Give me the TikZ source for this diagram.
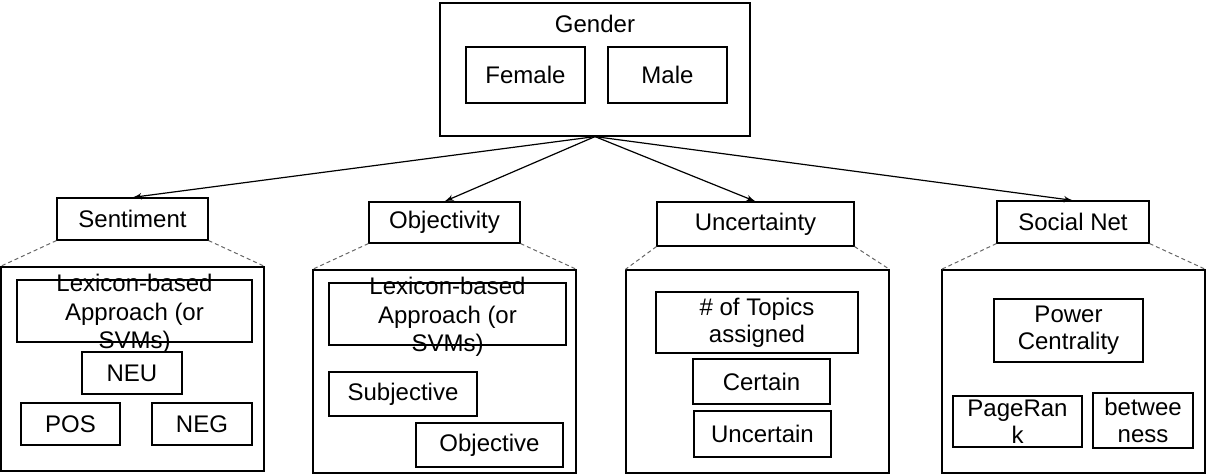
\documentclass[tikz,border=0pt]{standalone}
\usepackage{fontspec}
\setmainfont{Liberation Sans}
\usetikzlibrary{shapes,arrows,positioning,calc}
\tikzset{
    box/.style={rectangle, draw, inner sep=0pt, align=center, font=\fontsize{12}{13.5}\selectfont, line width=0.6pt},
    sz/.style 2 args={minimum width=#1*0.5pt, minimum height=#2*0.5pt},
    txt/.style={align=center, inner sep=0pt, font=\fontsize{12}{14.2}\selectfont},
    line/.style={draw, -latex', line width=0.6pt},
    zoomline/.style={draw, gray!80!black, dash pattern=on 2pt off 1.5pt, line width=0.5pt}
}
\begin{document}
\begin{tikzpicture}[x=0.5pt, y=-0.5pt]
    \useasboundingbox (0,0) rectangle (1206,475);

    % top
    \node [box, sz={310}{133}] (gender) at (595,69.5) {};
    \node [txt] (gendertitle) at (595,24) {Gender};
    \node [box, sz={119}{56}] (female) at (525.5,75) {Female};
    \node [box, sz={119}{56}] (male) at (667.5,75) {Male};

    % second level
    \node [box, sz={151}{42}] (senti) at (132.5,219) {Sentiment};
    \node [box, sz={151}{41}] (obj) at (444.5,222.5) {Objectivity};
    \node [box, sz={197}{44}] (unc) at (755.5,224) {Uncertainty};
    \node [box, sz={152}{42}] (soc) at (1073,222) {Social Net};

    \path [line] (gender.south) -- (senti.north);
    \path [line] (gender.south) -- (obj.north);
    \path [line] (gender.south) -- (unc.north);
    \path [line] (gender.south) -- (soc.north);

    % panels
    \node [box, sz={263}{204}] (sentipanel) at (132.5,369) {};
    \node [box, sz={263}{203}] (objpanel) at (444.5,371.5) {};
    \node [box, sz={263}{203}] (uncpanel) at (757.5,371.5) {};
    \node [box, sz={263}{203}] (socpanel) at (1073.5,371.5) {};

    \path [zoomline] (senti.south west) -- (sentipanel.north west);
    \path [zoomline] (senti.south east) -- (sentipanel.north east);
    \path [zoomline] (obj.south west) -- (objpanel.north west);
    \path [zoomline] (obj.south east) -- (objpanel.north east);
    \path [zoomline] (unc.south west) -- (uncpanel.north west);
    \path [zoomline] (unc.south east) -- (uncpanel.north east);
    \path [zoomline] (soc.south west) -- (socpanel.north west);
    \path [zoomline] (soc.south east) -- (socpanel.north east);

    % sentiment
    \node [box, sz={235}{62}] (lexa) at (134.5,311) {};
    \node [txt] (lexatxt) at ($(lexa.center)+(0,3)$) {Lexicon-based\\Approach (or\\SVMs)};
    \node [box, sz={100}{42}] (neu) at (132,373) {NEU};
    \node [box, sz={99}{42}] (pos) at (70.5,424) {POS};
    \node [box, sz={100}{42}] (neg) at (202,424) {NEG};

    % objectivity
    \node [box, sz={237}{62}] (lexb) at (447.5,314) {};
    \node [txt] (lexbtxt) at ($(lexb.center)+(0,3)$) {Lexicon-based\\Approach (or\\SVMs)};
    \node [box, sz={148}{44}] (subj) at (403,394) {Subjective};
    \node [box, sz={147}{44}] (objv) at (489.5,445) {Objective};

    % uncertainty
    \node [box, sz={202}{61}] (topics) at (757,322.5) {\# of Topics\\assigned};
    \node [box, sz={137}{45}] (cert) at (761.5,381.5) {Certain};
    \node [box, sz={137}{46}] (uncert) at (762.5,434) {Uncertain};

    % social net
    \node [box, sz={149}{63}] (power) at (1068.5,330.5) {Power\\Centrality};
    \node [box, sz={129}{51}] (pagerank) at (1017.5,421.5) {PageRan\\k};
    \node [box, sz={100}{55}] (betw) at (1143,420.5) {betwee\\ness};
\end{tikzpicture}
\end{document}
